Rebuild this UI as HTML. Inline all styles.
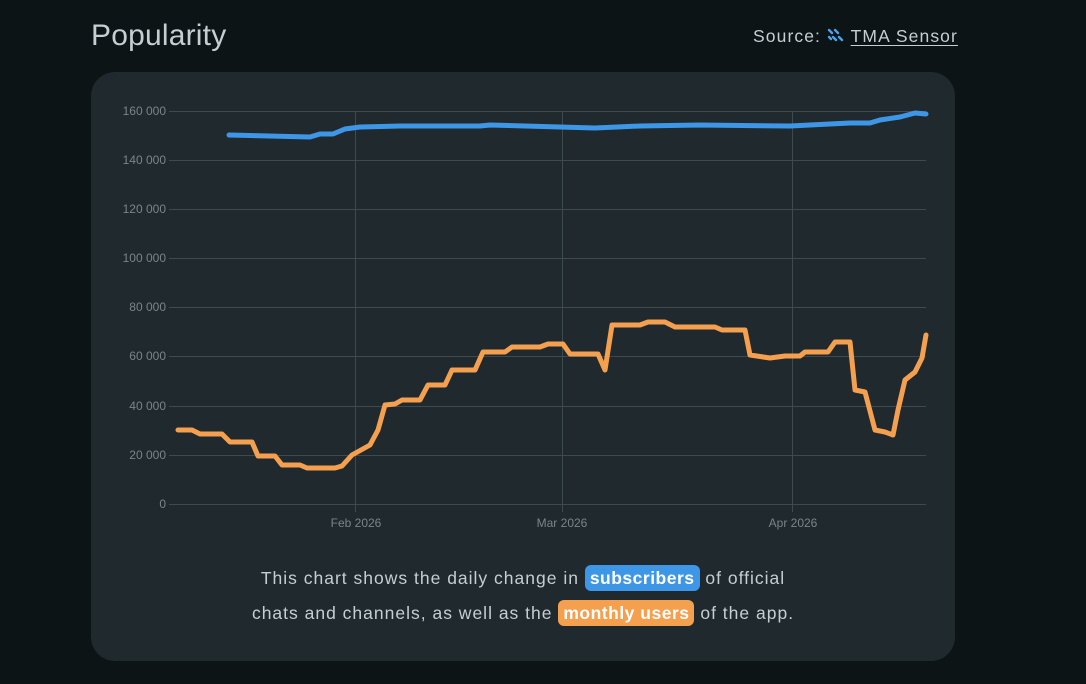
<!DOCTYPE html>
<html><head><style>
body{margin:0;width:1086px;height:684px;background:#0d1416;font-family:"Liberation Sans",sans-serif;position:relative;overflow:hidden}
.t{position:absolute;left:91px;top:19px;font-size:30px;color:#c6ced3;letter-spacing:0.2px}
.s{position:absolute;left:753px;top:26px;font-size:17.5px;color:#c6ced3;letter-spacing:1.1px}
.s u{text-underline-offset:3px}
.card{position:absolute;left:91px;top:72px;width:864px;height:589px;background:#1f292e;border-radius:24px}
.cap{position:absolute;left:91px;width:864px;text-align:center;font-size:17.5px;color:#c6ced3;letter-spacing:1.0px}
.b{padding:3px 5px;border-radius:6px;color:#fff;font-weight:bold;letter-spacing:0.5px}
</style></head><body>
<div class="t">Popularity</div>
<div class="s">Source: <svg width="18" height="16" viewBox="0 0 18 16" style="vertical-align:-2px"><g stroke="#4aa3ea" stroke-width="2.4" stroke-linecap="round"><line x1="2" y1="2" x2="5" y2="5"/><line x1="8" y1="2" x2="11" y2="5"/><line x1="6" y1="9" x2="9" y2="12"/><line x1="12" y1="9" x2="15" y2="12"/><line x1="2" y1="9" x2="4" y2="11"/></g></svg> <u>TMA Sensor</u></div>
<div class="card"></div>
<svg style="position:absolute;left:0;top:0" width="1086" height="684">
<g stroke="#3f4a4e" stroke-width="1">
<line x1="169" x2="926" y1="111.5" y2="111.5"/><line x1="169" x2="926" y1="160.5" y2="160.5"/><line x1="169" x2="926" y1="209.5" y2="209.5"/><line x1="169" x2="926" y1="258.5" y2="258.5"/><line x1="169" x2="926" y1="307.5" y2="307.5"/><line x1="169" x2="926" y1="356.5" y2="356.5"/><line x1="169" x2="926" y1="406.5" y2="406.5"/><line x1="169" x2="926" y1="455.5" y2="455.5"/><line x1="169" x2="926" y1="504.5" y2="504.5"/>
<line x1="355.5" x2="355.5" y1="111" y2="512"/><line x1="562.5" x2="562.5" y1="111" y2="512"/><line x1="792.5" x2="792.5" y1="111" y2="512"/>
</g>
<g fill="#7b8488" font-size="12" text-anchor="end" font-family="Liberation Sans,sans-serif">
<text x="166" y="115">160 000</text><text x="166" y="164">140 000</text><text x="166" y="213">120 000</text><text x="166" y="262">100 000</text><text x="166" y="311">80 000</text><text x="166" y="360">60 000</text><text x="166" y="410">40 000</text><text x="166" y="459">20 000</text><text x="166" y="508">0</text>
</g>
<g fill="#7b8488" font-size="12" text-anchor="middle" font-family="Liberation Sans,sans-serif">
<text x="356" y="527">Feb 2026</text><text x="562" y="527">Mar 2026</text><text x="793" y="527">Apr 2026</text>
</g>
<polyline fill="none" stroke="#3e97e6" stroke-width="5" stroke-linejoin="round" stroke-linecap="round" points="229,135 310,137 320,134 333,134 345,129 360,127 400,126 480,126 490,125 560,127 595,128 640,126 700,125 790,126 850,123 870,123 880,120 900,117 915,113 926,114"/>
<polyline fill="none" stroke="#f5a04f" stroke-width="5" stroke-linejoin="round" stroke-linecap="round" points="178,430 192,430 200,434 222,434 230,442 252,442 258,456 275,456 282,465 300,465 307,468 335,468 342,466 352,455 370,445 378,430 385,405 395,404 402,400 420,400 428,385 445,385 452,370 475,370 483,352 505,352 512,347 540,347 548,344 563,344 570,354 598,354 605,370 612,325 640,325 648,322 665,322 675,327 715,327 722,330 745,330 750,355 770,358 785,356 800,356 805,352 828,352 835,342 850,342 855,390 865,392 875,430 885,432 893,435 898,410 905,380 915,372 922,358 926,335"/>
</svg>
<div class="cap" style="top:568px">This chart shows the daily change in <span class="b" style="background:#3e97e6">subscribers</span> of official</div>
<div class="cap" style="top:603px">chats and channels, as well as the <span class="b" style="background:#f5a04f">monthly users</span> of the app.</div>
</body></html>
